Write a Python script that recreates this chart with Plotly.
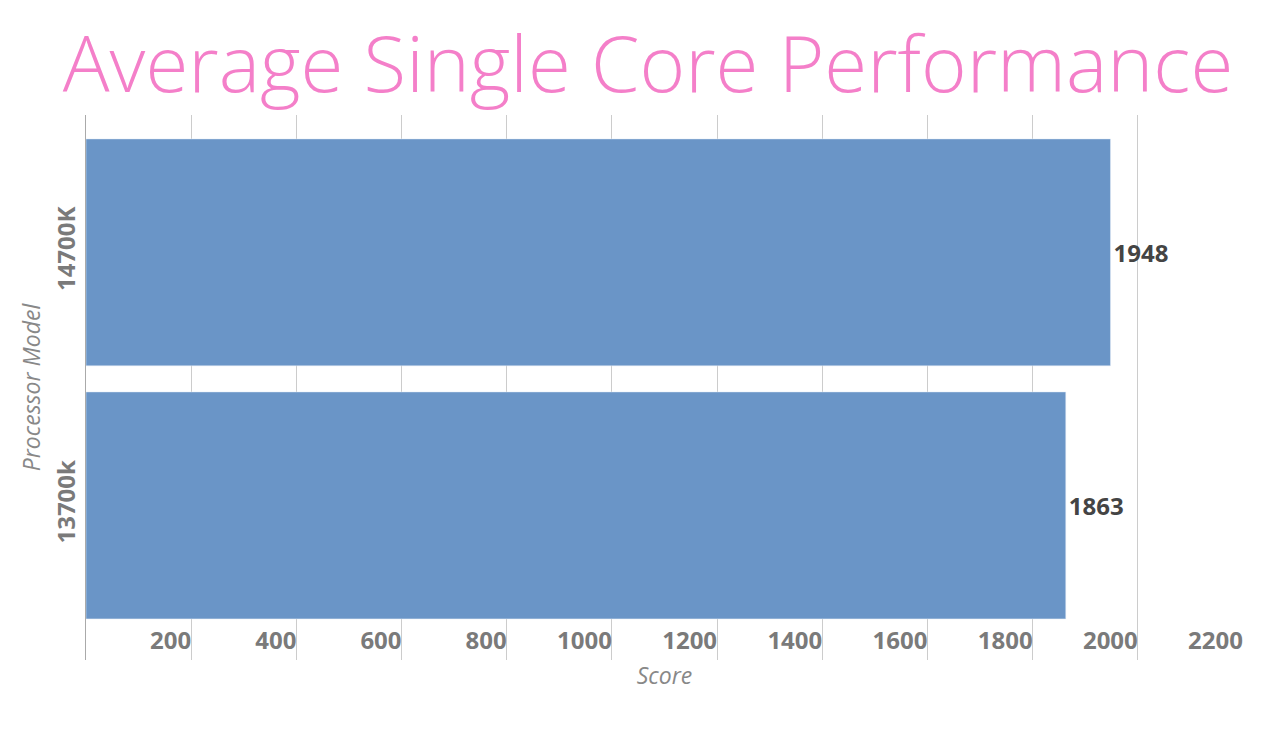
import plotly.graph_objects as go

categories = ["13700k", "14700K"]
scores = [1863, 1948]
tick_vals = [200, 400, 600, 800, 1000, 1200, 1400, 1600, 1800, 2000, 2200]

fig = go.Figure(go.Bar(
    y=categories, x=scores, orientation="h",
    marker=dict(color="#6a95c7"),
    text=[str(v) for v in scores], textposition="outside",
    textfont=dict(family="Open Sans", size=24, color="#444444", weight="bold"),
    cliponaxis=False,
))
fig.update_layout(
    width=1280, height=751,
    paper_bgcolor="white", plot_bgcolor="white",
    margin=dict(l=78, r=45, t=107, b=99, autoexpand=False),
    bargap=0.103,
    showlegend=False,
    title=dict(text="Average Single Core Performance", x=0.5, xanchor="center", y=0.924, yanchor="middle",
               font=dict(family="Open Sans", size=78, color="#f47fc9", weight=300)),
    xaxis=dict(range=[0, 2200], tickvals=tick_vals, showgrid=True, gridcolor="#cccccc",
               gridwidth=1, ticks="", ticklabelposition="inside left", automargin=False,
               tickfont=dict(family="Open Sans", size=24, color="#7a7a7a", weight="bold"),
               title=dict(text="<i>Score</i>", font=dict(family="Open Sans", size=23, color="#888888"), standoff=12),
               zeroline=False, showline=False),
    yaxis=dict(tickangle=-90, ticks="", showgrid=False, automargin=False, range=[-0.611, 1.543],
               tickfont=dict(family="Open Sans", size=24, color="#7a7a7a", weight="bold"),
               title=dict(text="<i>Processor Model</i>", font=dict(family="Open Sans", size=23, color="#888888"), standoff=2),
               showline=True, linecolor="#aaaaaa"),
)
fig.write_html("out.html")
